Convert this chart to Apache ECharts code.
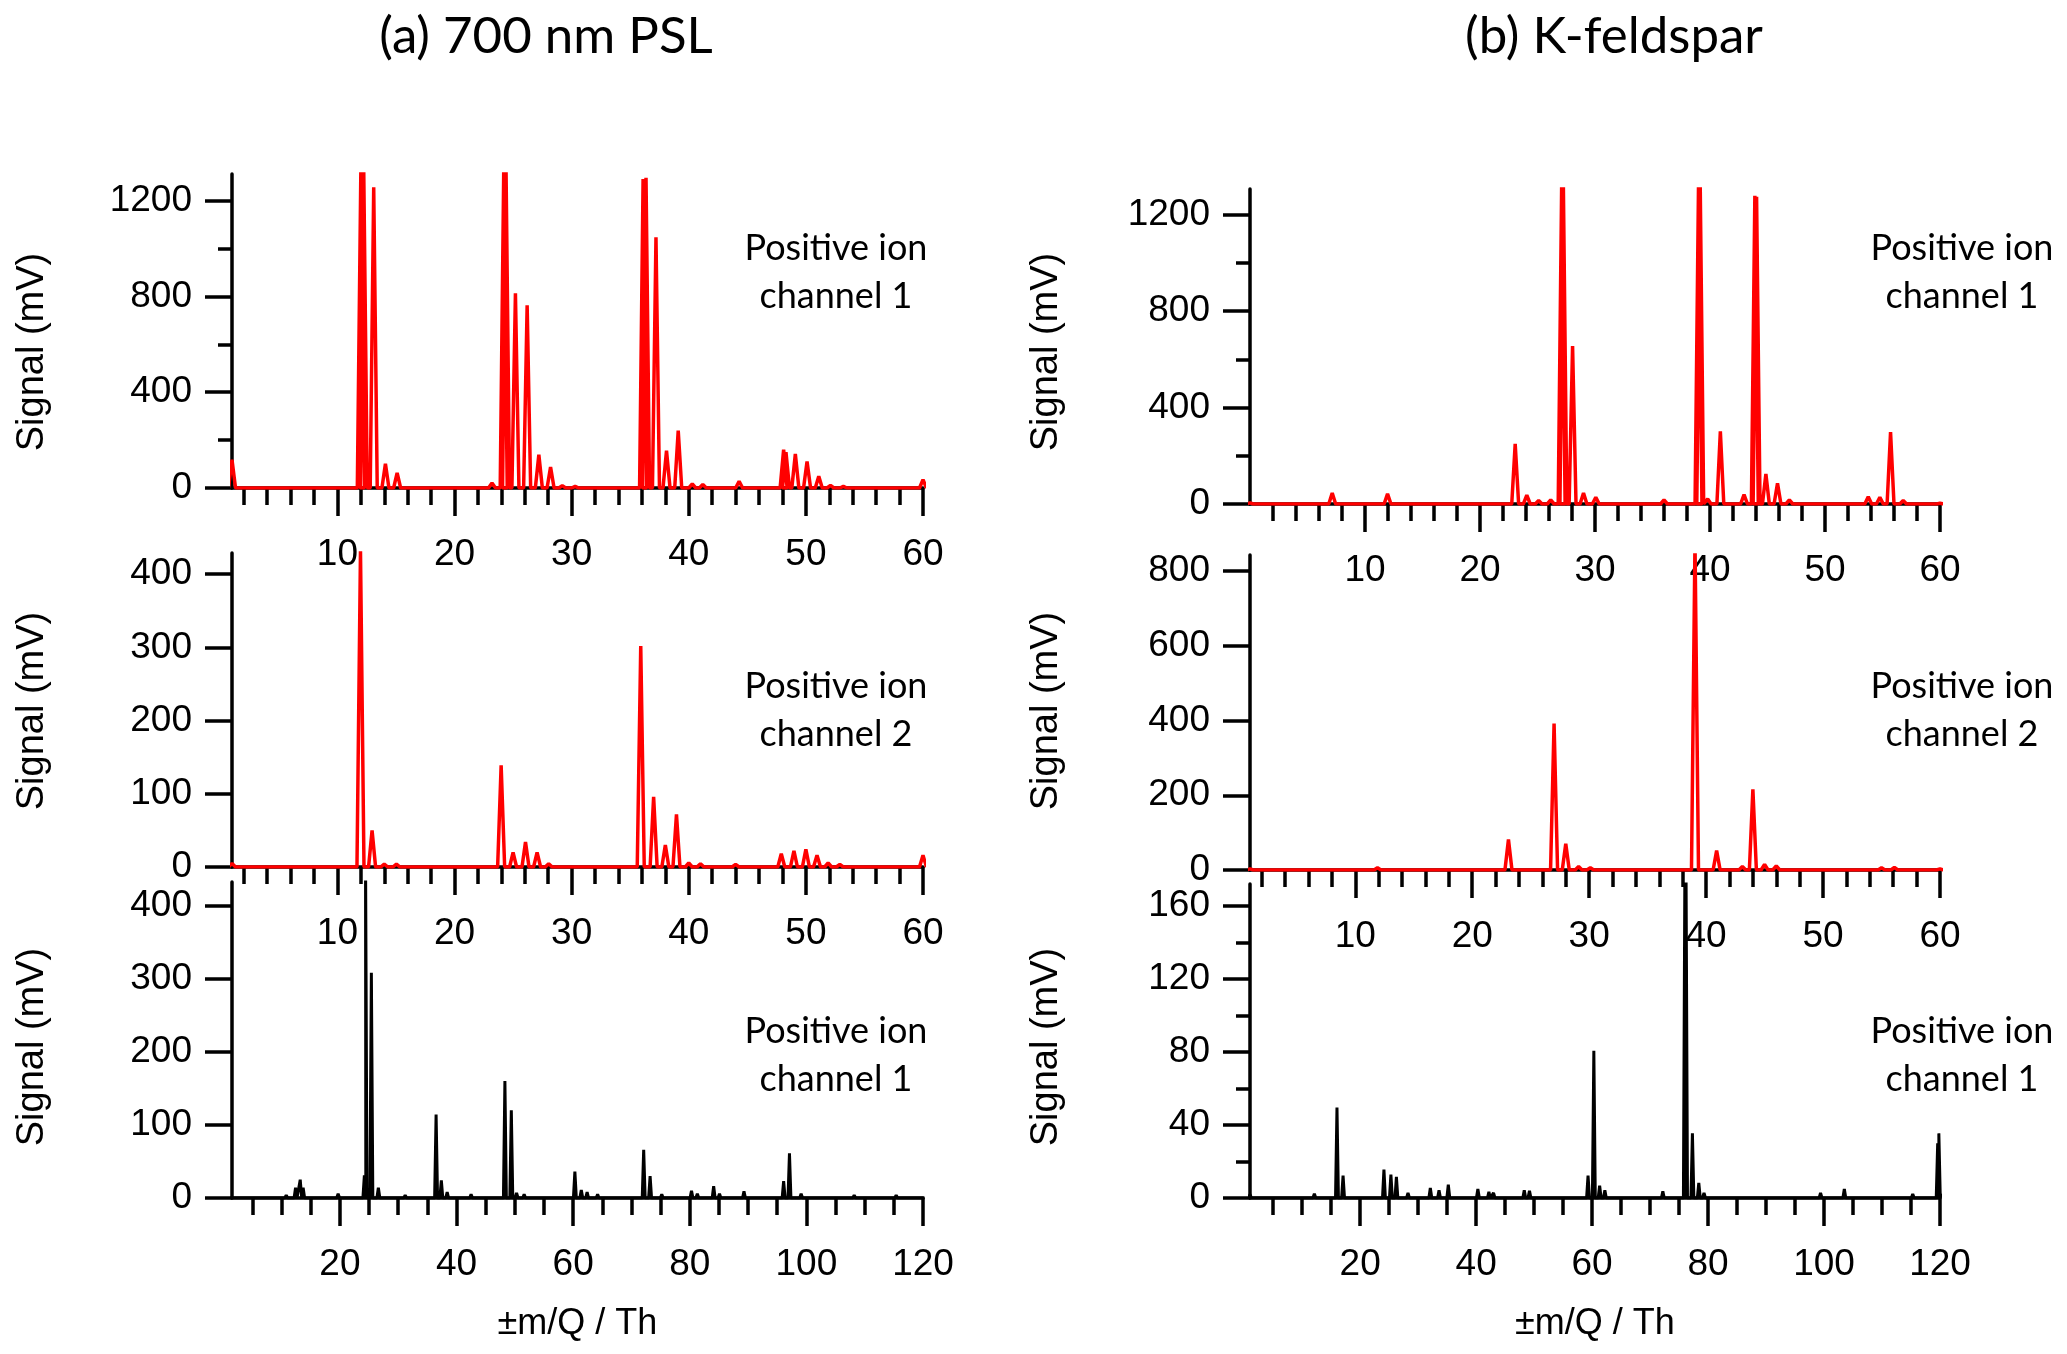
<!DOCTYPE html>
<html>
<head>
<meta charset="utf-8">
<script src="https://cdn.jsdelivr.net/npm/echarts@6/dist/echarts.min.js"></script>
<style>
html, body { margin: 0; background: #fff; }
#chart { width: 2067px; height: 1354px; }
</style>
</head>
<body>
<div id="chart"></div>
<script>
// (a) 700 nm PSL, channel 1 (peak positions / heights in mV)
var pslCh1Mz  = [1, 12, 12.25, 13.1, 14.1, 15.1, 23.2, 24.2, 24.4, 25.2, 26.2, 27.2, 28.2, 29.2, 30.3, 36.1, 36.35, 37.2, 38.1, 39.1, 40.3, 41.2, 44.3, 48.1, 48.3, 49.1, 50.1, 51.1, 52.1, 53.2, 60];
var pslCh1Sig = [118, 1320, 1320, 1256, 101, 63, 21, 1320, 1320, 813, 763, 139, 88, 10, 7, 1290, 1295, 1047, 156, 240, 17, 15, 28, 160, 150, 142, 111, 49, 11, 7, 35];
// (a) channel 2
var pslCh2Mz  = [1, 11.97, 12.96, 14, 15.04, 23.98, 25, 26.06, 27.05, 28.04, 35.9, 37, 38, 38.95, 40, 41, 44, 47.9, 48.98, 50, 50.95, 51.9, 52.9, 60];
var pslCh2Sig = [5, 432, 50, 4, 4, 139, 20, 34, 20, 4.5, 302, 96, 30, 72, 5.5, 4.5, 3.6, 18, 22, 24, 16, 5.5, 3.6, 16];
// (a) channel 1, wide range (black)
var pslWideMz  = [1.5, 10.8, 12.4, 13.2, 13.7, 19.7, 24.2, 24.4, 25.4, 26.6, 31.2, 36.5, 37.4, 38.4, 42.5, 48.3, 49.4, 50.3, 51.6, 60.3, 61.4, 62.4, 64.2, 72.1, 73.2, 75.2, 80.3, 81.3, 84.1, 85.1, 89.3, 96.1, 97.1, 99.1, 108.2, 115.4, 120];
var pslWideSig = [2, 4, 14, 25, 14, 6, 31, 470, 308, 14, 4, 114, 24, 8, 5, 160, 120, 7, 5, 36, 11, 8, 5, 66, 30, 5, 10, 6, 16, 6, 9, 23, 61, 6, 4, 4, 2];

// (b) K-feldspar, channel 1
var kfsCh1Mz  = [0, 7.15, 11.96, 23.06, 24.07, 25.1, 26.15, 27.1, 27.25, 28.05, 29, 30.07, 36, 39, 39.15, 39.8, 40.9, 42.96, 43.9, 44.05, 44.86, 45.87, 46.9, 53.76, 54.77, 55.7, 56.8, 60];
var kfsCh1Sig = [5, 46, 42, 250, 37, 14, 17, 1320, 1320, 655, 46, 28, 17, 1320, 1320, 21, 302, 39, 1279, 1275, 125, 86, 17, 30, 28, 298, 14, 3];
// (b) channel 2
var kfsCh2Mz  = [1, 11.9, 23.1, 27, 28, 29.1, 30.1, 39.05, 40.9, 43.1, 44, 45, 46, 55, 56.1, 60];
var kfsCh2Sig = [3, 6, 82, 392, 70, 9, 6, 880, 52, 9, 216, 15, 11, 6, 7, 3];
// (b) channel 1, wide range (black)
var kfsWideMz  = [1, 12.1, 16, 17.05, 24.1, 25.3, 26.25, 28.25, 32.1, 33.6, 35.2, 40.3, 42.2, 43, 48.3, 49.2, 59.3, 60.3, 61.3, 62.2, 72.2, 76, 76.2, 77.3, 78.4, 79.3, 99.4, 103.5, 115.3, 119.6, 119.8, 120];
var kfsWideSig = [2, 2.4, 49.5, 12.3, 15.6, 12.8, 11.6, 2.8, 5.5, 4.2, 7.3, 5, 3.3, 2.8, 4.2, 4, 12.3, 80.7, 6.8, 4.2, 3.7, 180, 180, 35.4, 8.3, 2.8, 2.8, 5, 2.2, 30, 35.4, 3];

// tick labels
var xTicks60  = [10, 20, 30, 40, 50, 60];
var xTicks120 = [20, 40, 60, 80, 100, 120];
var yTicks1200 = [0, 400, 800, 1200];
var yTicks400  = [0, 100, 200, 300, 400];
var yTicks800  = [0, 200, 400, 600, 800];
var yTicks160  = [0, 40, 80, 120, 160];

var AX_FONT = 'Liberation Sans, Arial, sans-serif';
var TXT_FONT = 'Lato, sans-serif';
var AX_W = 3.5;

// each peak drawn as a narrow spike on the baseline
function spikes(mz, sig, hw) {
    var out = [];
    for (var i = 0; i < mz.length; i++) {
        out.push([mz[i] - hw, 0], [mz[i], sig[i]], [mz[i] + hw, 0]);
    }
    return out;
}

function plain(v) { return String(v); }

function xAx(gi, min, max, ticks, minorSplit, name) {
    return {
        type: 'value', gridIndex: gi, min: min, max: max,
        axisLine: { show: true, onZero: false, lineStyle: { color: '#000', width: AX_W } },
        axisTick: { show: true, length: 28, customValues: ticks, lineStyle: { color: '#000', width: AX_W } },
        minorTick: { show: true, splitNumber: minorSplit, length: 17, lineStyle: { color: '#000', width: AX_W } },
        axisLabel: { customValues: ticks, formatter: plain, margin: 48, fontSize: 37, color: '#000', fontFamily: AX_FONT },
        splitLine: { show: false },
        minorSplitLine: { show: false },
        name: name || '',
        nameLocation: 'middle',
        nameGap: 108,
        nameTextStyle: { fontSize: 36, color: '#000', fontFamily: AX_FONT }
    };
}

function yAx(gi, max, interval, ticks, minorSplit) {
    return {
        type: 'value', gridIndex: gi, min: 0, max: max, interval: interval,
        axisLine: { show: true, lineStyle: { color: '#000', width: AX_W } },
        axisTick: { show: true, length: 27, customValues: ticks, lineStyle: { color: '#000', width: AX_W } },
        minorTick: { show: minorSplit > 0, splitNumber: minorSplit || 2, length: 14, lineStyle: { color: '#000', width: AX_W } },
        axisLabel: { customValues: ticks, formatter: plain, margin: 40, fontSize: 37, color: '#000', fontFamily: AX_FONT },
        splitLine: { show: false },
        minorSplitLine: { show: false }
    };
}

function ser(gi, mz, sig, hw, color, width) {
    return {
        type: 'line', xAxisIndex: gi, yAxisIndex: gi,
        data: spikes(mz, sig, hw),
        showSymbol: false, symbol: 'none',
        lineStyle: { color: color, width: width },
        clip: true, animation: false
    };
}

function yName(x, y) {
    return {
        type: 'text', x: x, y: y, rotation: Math.PI / 2,
        style: { text: 'Signal (mV)', fontSize: 38, fontFamily: AX_FONT, fill: '#000', align: 'center', verticalAlign: 'middle' }
    };
}

function note(x, y, txt) {
    return {
        type: 'text', x: x, y: y,
        style: { text: txt, fontSize: 36, lineHeight: 48, fontFamily: TXT_FONT, fill: '#000', align: 'center', verticalAlign: 'middle' }
    };
}

var chart = echarts.init(document.getElementById('chart'));
var option = {
    backgroundColor: '#fff',
    animation: false,
    grid: [
        { left: 232, top: 174, width: 691, height: 314, outerBoundsMode: 'none', containLabel: false },
        { left: 232, top: 553, width: 691, height: 314, outerBoundsMode: 'none', containLabel: false },
        { left: 232, top: 882, width: 691, height: 316, outerBoundsMode: 'none', containLabel: false },
        { left: 1250, top: 189, width: 690, height: 315, outerBoundsMode: 'none', containLabel: false },
        { left: 1250, top: 555, width: 690, height: 315, outerBoundsMode: 'none', containLabel: false },
        { left: 1250, top: 884, width: 690, height: 314, outerBoundsMode: 'none', containLabel: false }
    ],
    xAxis: [
        xAx(0, 1, 60, xTicks60, 5),
        xAx(1, 1, 60, xTicks60, 5),
        xAx(2, 1.5, 120, xTicks120, 4, '\u00b1m/Q / Th'),
        xAx(3, 0, 60, xTicks60, 5),
        xAx(4, 1, 60, xTicks60, 5),
        xAx(5, 1, 120, xTicks120, 4, '\u00b1m/Q / Th')
    ],
    yAxis: [
        yAx(0, 1311, 400, yTicks1200, 2),
        yAx(1, 429, 100, yTicks400, 0),
        yAx(2, 432, 100, yTicks400, 0),
        yAx(3, 1307, 400, yTicks1200, 2),
        yAx(4, 843, 200, yTicks800, 0),
        yAx(5, 172, 40, yTicks160, 2)
    ],
    series: [
        ser(0, pslCh1Mz, pslCh1Sig, 0.3, '#ff0000', 3.5),
        ser(1, pslCh2Mz, pslCh2Sig, 0.3, '#ff0000', 3.5),
        ser(2, pslWideMz, pslWideSig, 0.25, '#000000', 3),
        ser(3, kfsCh1Mz, kfsCh1Sig, 0.3, '#ff0000', 3.5),
        ser(4, kfsCh2Mz, kfsCh2Sig, 0.3, '#ff0000', 3.5),
        ser(5, kfsWideMz, kfsWideSig, 0.25, '#000000', 3)
    ],
    graphic: [
        { type: 'text', x: 546, y: 37, style: { text: '(a) 700 nm PSL', fontSize: 51, fontFamily: TXT_FONT, fill: '#000', align: 'center', verticalAlign: 'middle' } },
        { type: 'text', x: 1614, y: 37, style: { text: '(b) K-feldspar', fontSize: 51, fontFamily: TXT_FONT, fill: '#000', align: 'center', verticalAlign: 'middle' } },
        yName(33, 352), yName(33, 711), yName(33, 1047),
        yName(1047, 352), yName(1047, 711), yName(1047, 1047),
        note(836, 272, 'Positive ion\nchannel 1'),
        note(836, 710, 'Positive ion\nchannel 2'),
        note(836, 1055, 'Positive ion\nchannel 1'),
        note(1962, 272, 'Positive ion\nchannel 1'),
        note(1962, 710, 'Positive ion\nchannel 2'),
        note(1962, 1055, 'Positive ion\nchannel 1')
    ]
};
chart.setOption(option);
</script>
</body>
</html>
